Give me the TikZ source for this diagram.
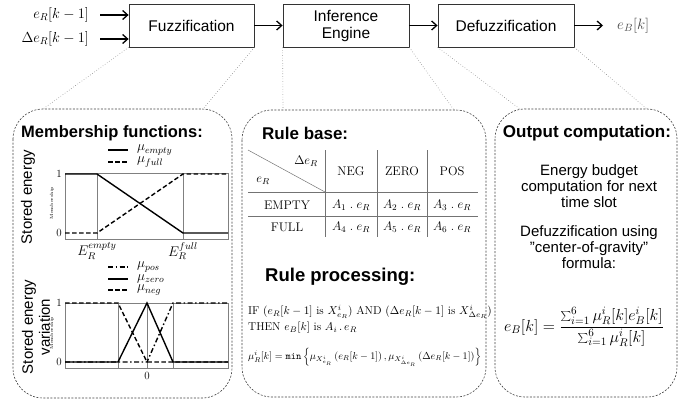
\RequirePackage{fix-cm}
\documentclass[tikz,border=0pt]{standalone}
\usepackage{fontspec}
\setsansfont{Liberation Sans}
\usetikzlibrary{arrows.meta}
\tikzset{
  blockbox/.style={draw=black!80, line width=0.8pt, minimum height=43pt, inner sep=0pt, font=\sffamily\fontsize{15.5}{17}\selectfont, align=center},
  arr/.style={line width=1.3pt, -{Straight Barb[length=5pt,width=9pt,line width=1.3pt]}},
  panel/.style={draw=black!75, line width=0.6pt, dash pattern=on 2pt off 1.5pt, rounded corners=30pt},
  zoomline/.style={draw=black!45, line width=0.6pt, dotted},
  header/.style={font=\sffamily\bfseries\fontsize{17}{19}\selectfont, inner sep=0pt},
  body/.style={font=\sffamily\fontsize{15}{16}\selectfont, align=center, inner sep=0pt},
  frameline/.style={draw=black!50, line width=0.5pt},
  curve/.style={line width=1.4pt, black},
  dashcurve/.style={curve, dash pattern=on 4.5pt off 2.5pt},
  dotcurve/.style={curve, dash pattern=on 5pt off 2.5pt on 1.5pt off 2.5pt},
  ticklab/.style={font=\fontsize{11}{12}\selectfont, inner sep=0pt},
  leglab/.style={font=\fontsize{13.5}{14}\selectfont, inner sep=0pt, anchor=west},
  tinylab/.style={font=\fontsize{4.5}{5}\selectfont, inner sep=0pt, rotate=90},
  sidelab/.style={font=\sffamily\fontsize{15}{17}\selectfont, inner sep=0pt, rotate=90, align=center},
  tabtext/.style={font=\fontsize{12.5}{14}\selectfont, inner sep=0pt},
  tabline/.style={draw=black!55, line width=0.5pt}
}
\begin{document}
\begin{tikzpicture}[x=1pt,y=-1pt]
\useasboundingbox (0,0) rectangle (683,402);

% ---- top chain ----
\node[blockbox, minimum width=125pt] (fuzz) at (191.5,25.5) {Fuzzification};
\node[blockbox, minimum width=126pt] (inf) at (346,25.5) {Inference\\Engine};
\node[blockbox, minimum width=136pt] (defuzz) at (506,25.5) {Defuzzification};

\node[anchor=east, inner sep=0pt, font=\fontsize{14.5}{16}\selectfont] (in1) at (89,15) {$e_R[k-1]$};
\node[anchor=east, inner sep=0pt, font=\fontsize{14.5}{16}\selectfont] (in2) at (89,39) {$\Delta e_R[k-1]$};
\node[anchor=west, inner sep=0pt, font=\fontsize{15}{16}\selectfont, text=black!70] (out) at (617,25.5) {$e_B[k]$};

\draw[arr] ([xshift=11pt]in1.east) -- (in1.east -| fuzz.west);
\draw[arr] ([xshift=11pt]in2.east) -- (in2.east -| fuzz.west);
\draw[arr] (fuzz.east) -- (inf.west);
\draw[arr] (inf.east) -- (defuzz.west);
\draw[arr] (defuzz.east) -- ([xshift=-14pt]out.west);

% ---- panels ----
\draw[panel] (13,109) rectangle (232,398);
\draw[panel] (242,110) rectangle (486,397);
\draw[panel] (495,109) rectangle (677,397);

\coordinate (p1a) at (43,109);
\coordinate (p1b) at (203,109);
\coordinate (p2a) at (283,110);
\coordinate (p2b) at (454,110);
\coordinate (p3a) at (520,109);
\coordinate (p3b) at (647,109);
\draw[zoomline] (fuzz.south west) -- (p1a);
\draw[zoomline] (fuzz.south east) -- (p1b);
\draw[zoomline] (inf.south west) -- (p2a);
\draw[zoomline] (inf.south east) -- (p2b);
\draw[zoomline] (defuzz.south west) -- (p3a);
\draw[zoomline] (defuzz.south east) -- (p3b);

% ---- panel 1 ----
\node[header, font=\sffamily\bfseries\fontsize{16.5}{19}\selectfont] (h1) at (112,133) {Membership functions:};

% legend 1
\draw[curve] (108,150) -- (128,150);
\node[leglab] (l1) at (137,150) {$\mu_{empty}$};
\draw[dashcurve] (108,162) -- (128,162);
\node[leglab] (l2) at (137,162) {$\mu_{full}$};

% plot 1
\draw[frameline] (65,173) rectangle (228,239);
\draw[frameline] (97,173) -- (97,239);
\draw[frameline] (183,173) -- (183,239);
\draw[curve] (65,174) -- (97,174) -- (183,233) -- (228,233);
\draw[dashcurve] (65,233) -- (97,233) -- (183,174) -- (228,174);
\node[ticklab] (t11) at (59,174) {1};
\node[ticklab] (t10) at (59,233) {0};
\node[tinylab] (m1) at (52,203) {Membership};
\node[sidelab] (s1) at (28,197) {Stored energy};
\node[font=\fontsize{14}{16}\selectfont, inner sep=0pt] (ee) at (97,251) {$E_R^{empty}$};
\node[font=\fontsize{14}{16}\selectfont, inner sep=0pt] (ef) at (183,251) {$E_R^{full}$};

% legend 2
\draw[dotcurve] (108,267) -- (128,267);
\node[leglab] (l3) at (137,267) {$\mu_{pos}$};
\draw[curve] (108,279) -- (128,279);
\node[leglab] (l4) at (137,279) {$\mu_{zero}$};
\draw[dashcurve] (108,290) -- (128,290);
\node[leglab] (l5) at (137,290) {$\mu_{neg}$};

% plot 2
\draw[frameline] (65,303) rectangle (228,368);
\draw[frameline] (118,303) -- (118,368);
\draw[frameline] (147,303) -- (147,368);
\draw[frameline] (173,303) -- (173,368);
\draw[dashcurve] (65,303) -- (118,303) -- (147,362) -- (228,362);
\draw[curve] (65,362) -- (118,362) -- (147,303) -- (173,362) -- (228,362);
\draw[dotcurve] (65,362) -- (147,362) -- (173,303) -- (228,303);
\node[ticklab] (t21) at (59,303) {1};
\node[ticklab] (t20) at (59,362) {0};
\node[ticklab] (tz) at (147,376) {0};
\node[tinylab] (m2) at (52,333) {Membership};
\node[sidelab] (s2) at (36,327) {Stored energy\\variation};

% ---- panel 2 ----
\node[header, anchor=west] (h2) at (262,133) {Rule base:};
\draw[tabline] (248,150) -- (325,192);
\draw[tabline] (325,150) -- (325,237);
\draw[tabline] (377,150) -- (377,237);
\draw[tabline] (427,150) -- (427,237);
\draw[tabline] (248,192) -- (478,192);
\draw[tabline] (248,216) -- (478,216);
\node[tabtext] (dh) at (306,161) {$\Delta e_R$};
\node[tabtext] (eh) at (263,181) {$e_R$};
\node[tabtext] (c1) at (351,171) {NEG};
\node[tabtext] (c2) at (402,171) {ZERO};
\node[tabtext] (c3) at (452,171) {POS};
\node[tabtext] (r1) at (287,205) {EMPTY};
\node[tabtext] (r2) at (287,227) {FULL};
\node[tabtext] (a1) at (351,205) {$A_1\;.\;e_R$};
\node[tabtext] (a2) at (402,205) {$A_2\;.\;e_R$};
\node[tabtext] (a3) at (452,205) {$A_3\;.\;e_R$};
\node[tabtext] (a4) at (351,227) {$A_4\;.\;e_R$};
\node[tabtext] (a5) at (402,227) {$A_5\;.\;e_R$};
\node[tabtext] (a6) at (452,227) {$A_6\;.\;e_R$};

\node[header, anchor=west, font=\sffamily\bfseries\fontsize{18.5}{20}\selectfont] (h3) at (265,277) {Rule processing:};
\node[anchor=west, inner sep=0pt, font=\fontsize{11.4}{12}\selectfont] (if) at (248,312)
  {IF $(e_R[k-1]$ is $X^i_{e_R})$ AND $(\Delta e_R[k-1]$ is $X^i_{\Delta e_R})$};
\node[anchor=west, inner sep=0pt, font=\fontsize{11.4}{12}\selectfont] (then) at (248,328)
  {THEN $e_B[k]$ is $A_i\,.\,e_R$};
\node[anchor=west, inner sep=0pt, font=\fontsize{10.1}{11}\selectfont] (mu) at (248,357)
  {$\mu^i_R[k] = \mathtt{min}\left\{\mu_{X^i_{e_R}}\left(e_R[k-1]\right),\mu_{X^i_{\Delta e_R}}\left(\Delta e_R[k-1]\right)\right\}$};

% ---- panel 3 ----
\node[header] (h4) at (587,133) {Output computation:};
\node[body] (b1) at (589,186) {Energy budget\\computation for next\\time slot};
\node[body] (b2) at (589,247) {Defuzzification using\\"center-of-gravity"\\formula:};
\node[inner sep=0pt, font=\fontsize{16}{18}\selectfont] (fm) at (584,327)
  {$\displaystyle e_B[k] = \frac{\sum_{i=1}^{6}\mu^i_R[k]e^i_B[k]}{\sum_{i=1}^{6}\mu^i_R[k]}$};
\end{tikzpicture}
\end{document}
